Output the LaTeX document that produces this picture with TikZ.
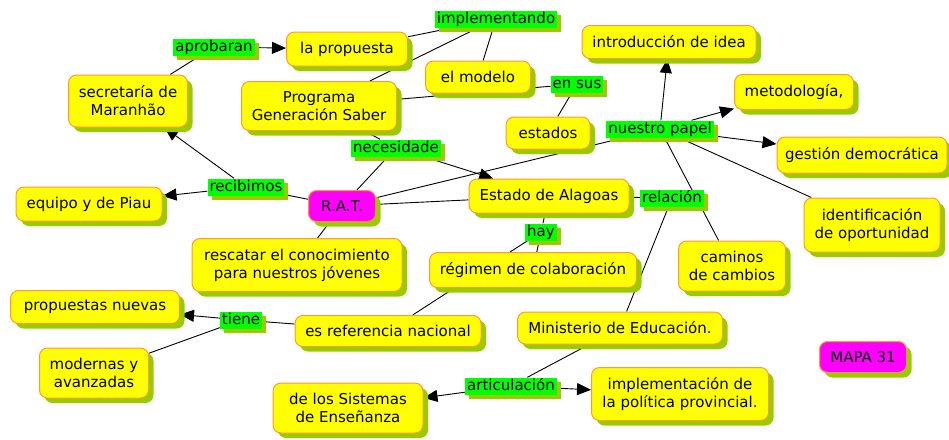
\documentclass[tikz,border=0pt]{standalone}
\usepackage{fontspec}
\setmainfont{DejaVu Sans}
\usetikzlibrary{arrows.meta,shadows,backgrounds}
\definecolor{cmyellow}{HTML}{FFFF00}
\definecolor{cmborder}{HTML}{FF9933}
\definecolor{cmshadow}{HTML}{99CC00}
\definecolor{cmgreen}{HTML}{00FF00}
\definecolor{cmmagenta}{HTML}{FF00FF}
\tikzset{
  concept/.style={draw=cmborder,fill=cmyellow,line width=1pt,rounded corners=8pt,
                  inner sep=3pt,align=center,font=\fontsize{15}{18}\selectfont,
                  drop shadow={shadow xshift=5pt,shadow yshift=-5pt,fill=cmshadow,opacity=1}},
  keyconcept/.style={concept,fill=cmmagenta},
  linkword/.style={fill=cmgreen,inner xsep=2pt,inner ysep=1pt,
                   text height=11.5pt,text depth=3.5pt,font=\fontsize{15}{18}\selectfont,
                   drop shadow={shadow xshift=4pt,shadow yshift=-4pt,fill=cmshadow,opacity=1}},
  linkline/.style={line width=0.9pt,color=black},
  linkarr/.style={linkline,-{Triangle[length=14pt,width=12pt]}}
}
\begin{document}
\begin{tikzpicture}[x=1pt,y=-1pt]
  \useasboundingbox (0,0) rectangle (949,439);
  \node[concept,minimum width=119,minimum height=52] (secretaria) at (128,101) {secretaría de\\Maranhão};
  \node[concept,minimum width=121,minimum height=34] (propuesta) at (347,49) {la propuesta};
  \node[concept,minimum width=155,minimum height=49] (programa) at (319,106) {Programa\\Generación Saber};
  \node[concept,minimum width=105,minimum height=32] (modelo) at (478,77) {el modelo};
  \node[concept,minimum width=84,minimum height=32] (estados) at (548,133) {estados};
  \node[keyconcept,minimum width=67,minimum height=31] (rat) at (342,206) {R.A.T.};
  \node[concept,minimum width=160,minimum height=34] (alagoas) at (549,196) {Estado de Alagoas};
  \node[concept,minimum width=146,minimum height=34] (equipo) at (89,204) {equipo y de Piau};
  \node[concept,minimum width=174,minimum height=33] (idea) at (669,42) {introducción de idea};
  \node[concept,minimum width=119,minimum height=35] (metodo) at (794,92) {metodología,};
  \node[concept,minimum width=170,minimum height=36] (gestion) at (862,155) {gestión democrática};
  \node[concept,minimum width=136,minimum height=54] (oportunidad) at (872,225) {identificación\\de oportunidad};
  \node[concept,minimum width=107,minimum height=50] (caminos) at (732,266) {caminos\\de cambios};
  \node[concept,minimum width=207,minimum height=35] (regimen) at (533,270) {régimen de colaboración};
  \node[concept,minimum width=210,minimum height=53] (rescatar) at (297,265) {rescatar el conocimiento\\para nuestros jóvenes};
  \node[concept,minimum width=169,minimum height=33] (nuevas) at (95,307) {propuestas nuevas};
  \node[concept,minimum width=186,minimum height=31] (referencia) at (388,331) {es referencia nacional};
  \node[concept,minimum width=109,minimum height=50] (modernas) at (94,373) {modernas y\\avanzadas};
  \node[concept,minimum width=205,minimum height=32] (ministerio) at (620,328) {Ministerio de Educación.};
  \node[concept,minimum width=150,minimum height=50] (sistemas) at (348,408) {de los Sistemas\\de Enseñanza};
  \node[concept,minimum width=177,minimum height=53] (politica) at (680,394) {implementación de\\la política provincial.};
  \node[keyconcept,minimum width=87,minimum height=31] (mapa) at (863,357) {MAPA 31};
  \node[linkword] (aprobaran) at (214,47) {aprobaran};
  \node[linkword] (implementando) at (496,19) {implementando};
  \node[linkword] (ensus) at (577,84) {en sus};
  \node[linkword] (necesidade) at (396,148) {necesidade};
  \node[linkword] (recibimos) at (246,187) {recibimos};
  \node[linkword] (papel) at (660,129) {nuestro papel};
  \node[linkword] (relacion) at (672,198) {relación};
  \node[linkword] (hay) at (541,232) {hay};
  \node[linkword] (tiene) at (241,320) {tiene};
  \node[linkword] (articulacion) at (511,386) {articulación};
  \begin{scope}[on background layer]
    \draw[linkline] (secretaria) -- (aprobaran);
    \draw[linkarr] (aprobaran) -- (propuesta);
    \draw[linkline] (programa) -- (implementando);
    \draw[linkline] (implementando) -- (propuesta);
    \draw[linkline] (implementando) -- (modelo);
    \draw[linkline] (programa) -- (ensus);
    \draw[linkline] (ensus) -- (estados);
    \draw[linkline] (programa) -- (necesidade);
    \draw[linkline] (rat) -- (necesidade);
    \draw[linkarr] (necesidade) -- (alagoas);
    \draw[linkline] (rat) -- (recibimos);
    \draw[linkarr] (recibimos) -- (secretaria);
    \draw[linkarr] (recibimos) -- (equipo);
    \draw[linkline] (rat) -- (alagoas);
    \draw[linkline] (rat) -- (papel);
    \draw[linkline] (rat) -- (rescatar);
    \draw[linkarr] (papel) -- (idea);
    \draw[linkarr] (papel) -- (metodo);
    \draw[linkarr] (papel) -- (gestion);
    \draw[linkline] (papel) -- (oportunidad);
    \draw[linkline] (papel) -- (caminos);
    \draw[linkline] (alagoas) -- (hay);
    \draw[linkline] (hay) -- (regimen);
    \draw[linkline] (hay) -- (referencia);
    \draw[linkline] (alagoas) -- (relacion);
    \draw[linkline] (relacion) -- (ministerio);
    \draw[linkline] (referencia) -- (tiene);
    \draw[linkarr] (tiene) -- (nuevas);
    \draw[linkline] (tiene) -- (modernas);
    \draw[linkline] (ministerio) -- (articulacion);
    \draw[linkarr] (articulacion) -- (sistemas);
    \draw[linkarr] (articulacion) -- (politica);
  \end{scope}
\end{tikzpicture}
\end{document}
